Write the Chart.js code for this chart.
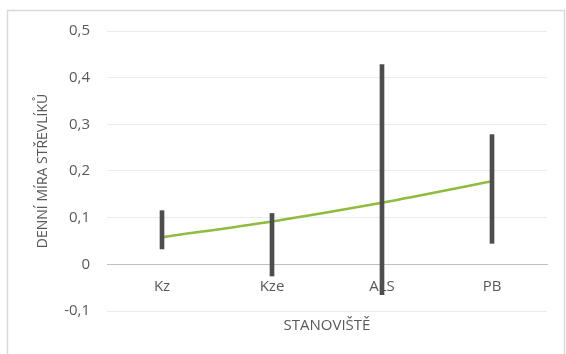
<!DOCTYPE html>
<html>
<head>
<meta charset="utf-8">
<script src="https://cdn.jsdelivr.net/npm/chart.js@4/dist/chart.umd.min.js"></script>
<style>
  html, body { margin: 0; padding: 0; background: #ffffff; }
  #wrap { width: 566px; height: 354px; }
</style>
</head>
<body>
<div id="wrap"><canvas id="chart" width="566" height="354"></canvas></div>
<script>
// Sampling sites and the daily catch rate of ground beetles
const sites = ['Kz', 'Kze', 'ALS', 'PB'];
const dailyRate = [0.058, 0.092, 0.132, 0.178];
const rangeLow = [0.033, -0.025, -0.065, 0.045];
const rangeHigh = [0.115, 0.109, 0.428, 0.278];
const yTicks = [-0.1, 0, 0.1, 0.2, 0.3, 0.4, 0.5];

const TEXT = '#595959';
Chart.defaults.font.family = '"Open Sans", "DejaVu Sans", sans-serif';
Chart.defaults.font.size = 15;
Chart.defaults.color = TEXT;

// thin light frame around the whole chart
const framePlugin = {
  id: 'frame',
  beforeDraw(chart) {
    const ctx = chart.ctx;
    ctx.save();
    ctx.strokeStyle = '#d9d9d9';
    ctx.lineWidth = 1.5;
    ctx.strokeRect(7.5, 10.5, chart.width - 9, chart.height + 10);
    ctx.restore();
  }
};

const fmt = v => (Math.abs(v) < 1e-9 ? '0' : v.toFixed(1).replace('.', ','));

new Chart(document.getElementById('chart'), {
  data: {
    labels: sites,
    datasets: [
      {
        type: 'bar',
        data: sites.map((s, i) => [rangeLow[i], rangeHigh[i]]),
        backgroundColor: '#4d4d4d',
        borderWidth: 0,
        barThickness: 4,
        order: 0
      },
      {
        type: 'line',
        data: dailyRate,
        borderColor: '#8fbb3e',
        borderWidth: 2.5,
        pointRadius: 0,
        cubicInterpolationMode: 'monotone',
        fill: false,
        order: 1
      }
    ]
  },
  options: {
    responsive: false,
    animation: false,
    devicePixelRatio: 1,
    layout: { padding: { left: 30, right: 19, top: 31, bottom: 19 } },
    plugins: { legend: { display: false }, tooltip: { enabled: false } },
    scales: {
      y: {
        min: -0.1,
        max: 0.5,
        afterBuildTicks: s => { s.ticks = yTicks.map(v => ({ value: v })); },
        afterFit: s => { s.width = 77; },
        ticks: { padding: 17, callback: v => fmt(v) },
        grid: { color: '#ebebeb', lineWidth: 1, drawTicks: false },
        border: { display: false },
        title: {
          display: true,
          text: 'DENNÍ MÍRA STŘEVLÍKŮ',
          padding: { top: 5, bottom: 0 },
          font: { size: 14 }
        }
      },
      x: {
        type: 'category',
        position: { y: 0 },
        offset: true,
        grid: { display: false, drawTicks: false },
        border: { display: true, color: '#bfbfbf', width: 1 },
        ticks: { padding: 13 }
      },
      x2: {
        type: 'category',
        labels: sites,
        position: 'bottom',
        offset: true,
        afterFit: s => { s.height = 24; },
        grid: { display: false, drawTicks: false },
        border: { display: false },
        ticks: { display: false },
        title: {
          display: true,
          text: 'STANOVIŠTĚ',
          padding: { top: 0, bottom: 0 },
          font: { size: 15 }
        }
      }
    }
  },
  plugins: [framePlugin]
});
</script>
</body>
</html>
